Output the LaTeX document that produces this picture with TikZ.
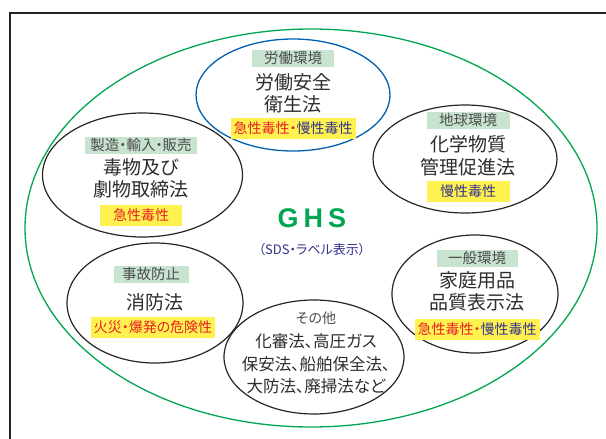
\documentclass[tikz,border=0pt]{standalone}
\usepackage{fontspec}
\setmainfont{Noto Sans CJK JP}[RawFeature=+palt]
\newfontfamily\ghsfont{Liberation Sans}
\usetikzlibrary{shapes.geometric}
\definecolor{frameblack}{RGB}{35,35,35}
\definecolor{ghsgreen}{RGB}{0,166,81}
\definecolor{lawblue}{RGB}{0,98,177}
\definecolor{labelgreen}{RGB}{200,228,208}
\definecolor{hlyellow}{RGB}{255,242,80}
\definecolor{toxred}{RGB}{232,30,40}
\definecolor{toxnavy}{RGB}{50,50,140}
\definecolor{textgray}{RGB}{45,45,45}
\tikzset{
  lawellipse/.style={ellipse, draw=black!85, line width=1.2pt, inner sep=0pt},
  catlabel/.style={fill=labelgreen, text=textgray!85, font=\fontsize{14.5}{16}\selectfont,
    inner xsep=4pt, inner ysep=1pt, minimum height=17pt, minimum width=82pt},
  lawname/.style={text=textgray, font=\fontsize{19}{22.5}\selectfont, align=center, inner sep=0pt},
  hazard/.style={fill=hlyellow, font=\fontsize{14}{15}\selectfont,
    inner xsep=3pt, inner ysep=1pt, minimum height=21pt, minimum width=82pt},
}
\begin{document}
\begin{tikzpicture}[x=1pt,y=-1pt]
\useasboundingbox (0,0) rectangle (606,439);
\clip (0,0) rectangle (606,439);
\fill[white] (0,0) rectangle (606,439);
% frame
\draw[frameblack, line width=2.5pt] (10,13) rectangle (650,480);
% outer GHS ellipse
\node[ellipse, draw=ghsgreen, line width=1.3pt, inner sep=0pt, minimum width=572pt, minimum height=398pt] (eGHS) at (311,228) {};
% labour ellipse (blue)
\node[ellipse, draw=lawblue, line width=1.3pt, inner sep=0pt, minimum width=194pt, minimum height=112pt] (eRodo) at (293,95) {};
% other ellipses
\node[lawellipse, minimum width=200pt, minimum height=124pt] (eSeizo) at (142.5,175) {};
\node[lawellipse, minimum width=184pt, minimum height=108pt] (eChikyu) at (465,159) {};
\node[lawellipse, minimum width=176pt, minimum height=120pt] (eJiko) at (155,303) {};
\node[lawellipse, minimum width=166pt, minimum height=118pt] (eIppan) at (475,294) {};
\node[lawellipse, minimum width=180pt, minimum height=114pt] (eSonota) at (314,357) {};

% GHS centre
\node[text=ghsgreen, font=\ghsfont\bfseries\fontsize{27}{30}\selectfont, inner sep=0pt] (ghs) at (312,218) {G\hspace{5pt}H\hspace{5pt}S};
\node[text=toxnavy, font=\fontsize{13}{14}\selectfont, inner sep=0pt] (sds) at (312,250) {（SDS・ラベル表示）};

% labour
\node[catlabel] (lRodo) at (293,58) {労働環境};
\node[lawname] (nRodo) at (293,93.5) {労働安全\\衛生法};
\node[hazard, minimum width=121pt] (hRodo) at (293,128) {\textcolor{toxred}{急性毒性・}\textcolor{toxnavy}{慢性毒性}};

% manufacture
\node[catlabel, minimum width=112pt] (lSeizo) at (141,145) {製造・輸入・販売};
\node[lawname] (nSeizo) at (141,178.5) {毒物及び\\劇物取締法};
\node[hazard] (hSeizo) at (141,215) {\textcolor{toxred}{急性毒性}};

% global environment
\node[catlabel, minimum width=83pt] (lChikyu) at (468,120) {地球環境};
\node[lawname] (nChikyu) at (468,156) {化学物質\\管理促進法};
\node[hazard, minimum width=83pt] (hChikyu) at (468,191) {\textcolor{toxnavy}{慢性毒性}};

% accident prevention
\node[catlabel, minimum width=75pt] (lJiko) at (151,274) {事故防止};
\node[lawname] (nJiko) at (155,302) {消防法};
\node[hazard, minimum width=120pt] (hJiko) at (153,327) {\textcolor{toxred}{火災・爆発の危険性}};

% general environment
\node[catlabel, minimum width=81pt] (lIppan) at (477,258) {一般環境};
\node[lawname] (nIppan) at (477,291.5) {家庭用品\\品質表示法};
\node[hazard, minimum width=121pt] (hIppan) at (477,329) {\textcolor{toxred}{急性毒性・}\textcolor{toxnavy}{慢性毒性}};

% others
\node[text=textgray!85, font=\fontsize{14}{15}\selectfont, inner sep=0pt] (lSonota) at (316,318) {その他};
\node[lawname, font=\fontsize{16.5}{22.5}\selectfont] (nSonota) at (316,364) {化審法、高圧ガス\\保安法、船舶保全法、\\大防法、廃掃法など};
\end{tikzpicture}
\end{document}
